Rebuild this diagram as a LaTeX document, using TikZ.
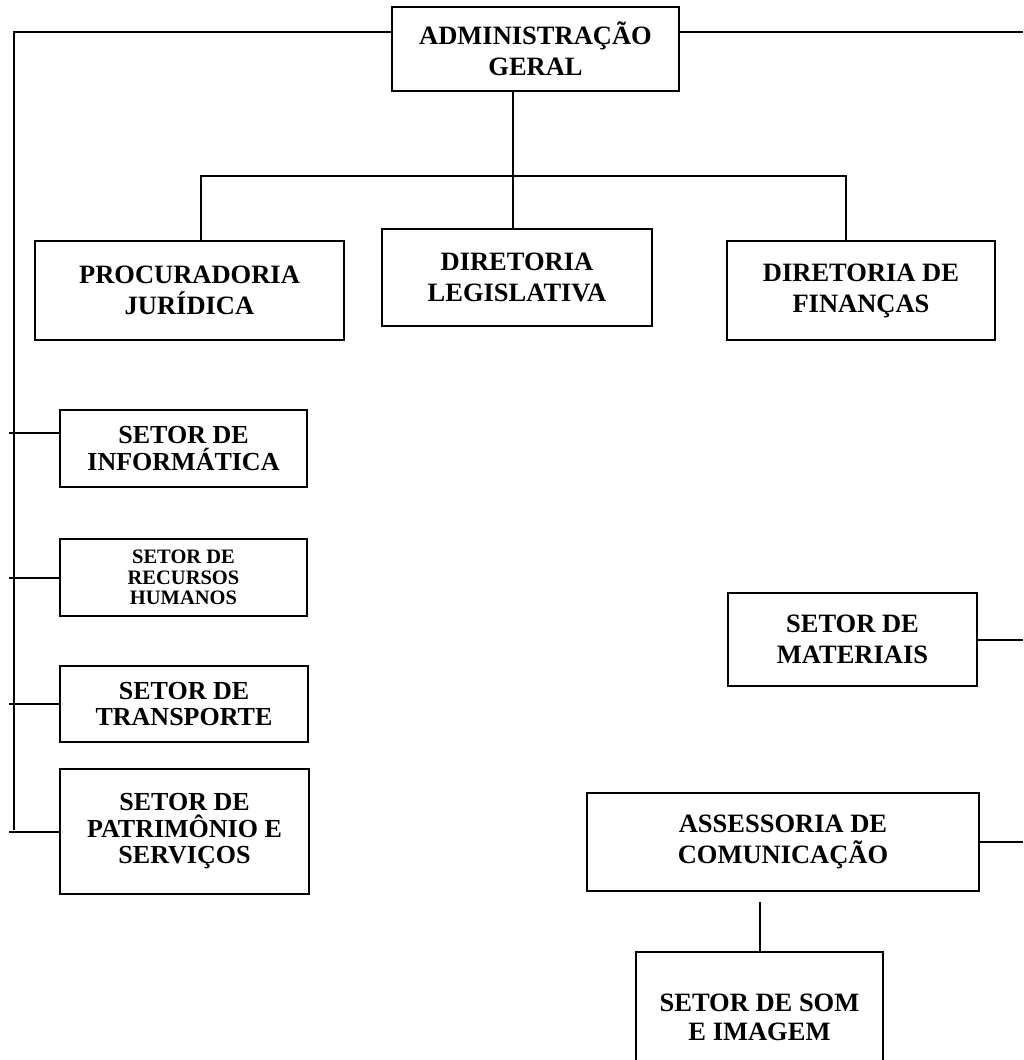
\documentclass[tikz,border=0pt]{standalone}
\usepackage{fontspec}
\setmainfont{Liberation Serif}
\begin{document}
\begin{tikzpicture}[x=1pt, y=-1pt, line width=2pt,
  box/.style={draw, line width=2.2pt, align=center, inner sep=0pt, font=\bfseries\fontsize{26.5}{31}\selectfont},
  sector/.style={box, font=\bfseries\fontsize{26}{26.5}\selectfont}]
  \useasboundingbox (0,0) rectangle (1023,1060);
  \clip (0,0) rectangle (1023,1060);

  \node[box, minimum width=287pt, minimum height=84pt] (adm) at (535.5,49) {ADMINISTRAÇÃO\\GERAL};
  \node[box, minimum width=309pt, minimum height=99pt] (proc) at (189.5,290.5) {PROCURADORIA\\JURÍDICA};
  \node[box, minimum width=270pt, minimum height=97pt] (leg) at (517,277.5) {DIRETORIA\\LEGISLATIVA};
  \node[box, minimum width=268pt, minimum height=99pt] (fin) at (861,290.5) {DIRETORIA DE\\FINANÇAS};

  \node[sector, minimum width=247pt, minimum height=77pt] (info) at (183.5,448.5) {SETOR DE\\INFORMÁTICA};
  \node[sector, minimum width=247pt, minimum height=77pt, font=\bfseries\fontsize{20.5}{20.5}\selectfont] (rh) at (183.5,577.5) {SETOR DE\\RECURSOS\\HUMANOS};
  \node[sector, minimum width=248pt, minimum height=76pt] (transp) at (184,704) {SETOR DE\\TRANSPORTE};
  \node[sector, minimum width=249pt, minimum height=125pt] (patr) at (184.5,831.5) {SETOR DE\\PATRIMÔNIO E\\SERVIÇOS};

  \node[box, minimum width=249pt, minimum height=93pt] (mat) at (852.5,639.5) {SETOR DE\\MATERIAIS};
  \node[box, minimum width=392pt, minimum height=98pt] (assess) at (783,842) {ASSESSORIA DE\\COMUNICAÇÃO};
  \node[box, minimum width=247pt, minimum height=130pt, font=\bfseries\fontsize{26.5}{29}\selectfont] (som) at (759.5,1017) {SETOR DE SOM\\E IMAGEM};

  \coordinate (tl) at (14,32);
  \coordinate (tr) at (1023,32);
  \coordinate (bl) at (14,830);
  \coordinate (edge) at (9,0);
  \coordinate (bar) at (513,176);

  \draw (adm.west |- tl) -- (tl) -- (bl);
  \draw (adm.east |- tl) -- (tr);
  \draw (adm.south -| bar) -- (bar |- leg.north);
  \draw ([xshift=11pt]proc.north) |- (bar) -| ([xshift=-15pt]fin.north);

  \draw ([yshift=16pt]info.west) -- ([yshift=16pt]info.west -| edge);
  \foreach \n in {rh,transp,patr}{\draw (\n.west) -- (\n.west -| edge); }
  \foreach \n in {mat,assess}{\draw (\n.east) -- (\n.east -| tr); }
  \draw (som.north) -- ++(0,-49);
\end{tikzpicture}
\end{document}
